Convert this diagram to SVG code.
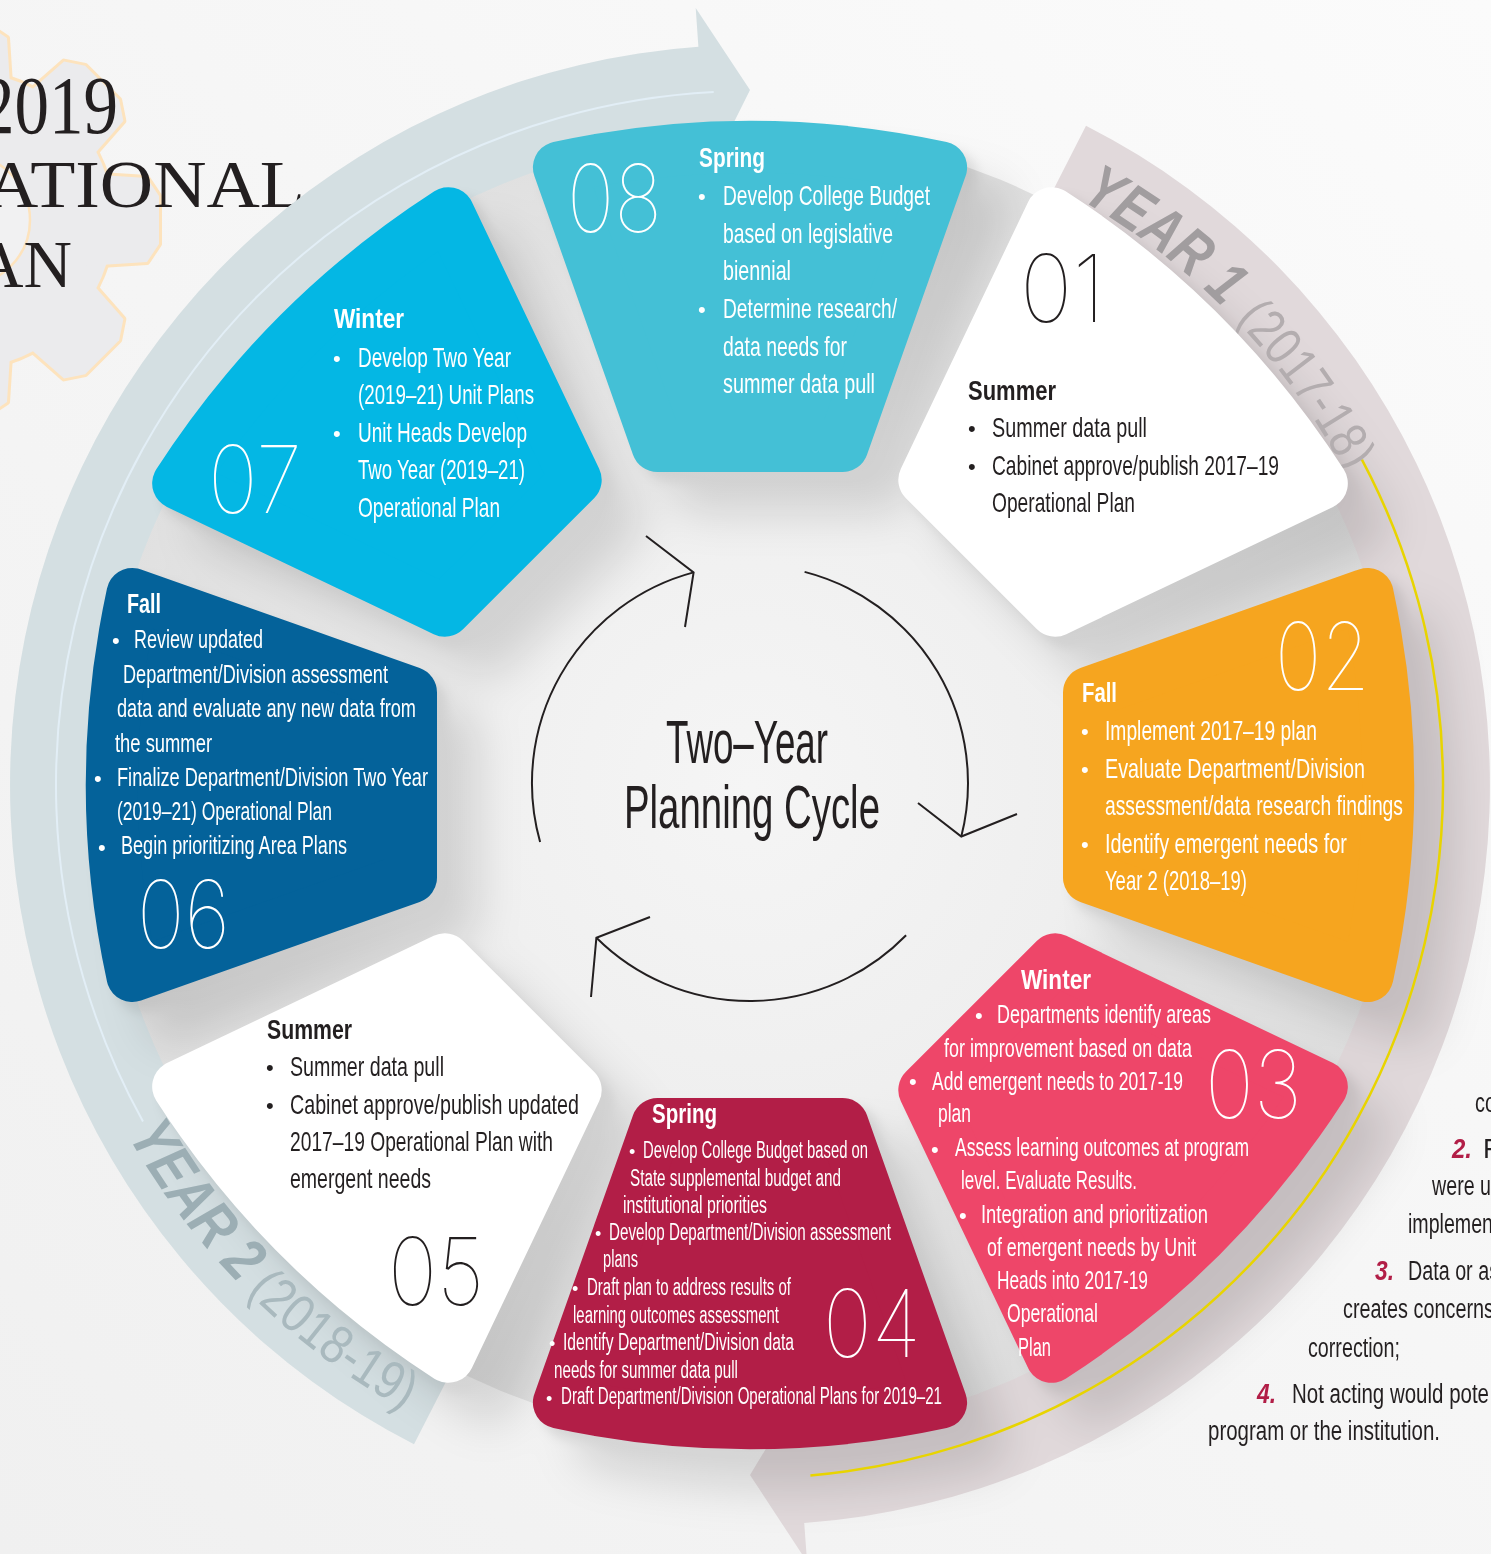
<svg xmlns="http://www.w3.org/2000/svg" width="1491" height="1554" viewBox="0 0 1491 1554">
<style>
.t{font-family:"Liberation Sans Narrow","Liberation Sans",Arial,sans-serif}
.h{font-weight:bold;font-size:28px}
.b{font-size:28px}
.m{font-size:26px}
.s{font-size:23px}
.bu{font-size:22px}
.bs{font-size:18px}
.w{fill:#fff}
.k{fill:#231f20}
.n{font-family:Inter,Roboto,Lato,sans-serif;font-weight:100;font-size:94px}
.ser{font-family:"Liberation Serif","Times New Roman",serif;fill:#231f20}
.cn{fill:#b21e47;font-weight:bold;font-style:italic;font-size:27px}
.cyc{fill:none;stroke:#231f20;stroke-width:2}
</style>
<defs>
<linearGradient id="bg" x1="1" y1="0" x2="0" y2="1">
<stop offset="0" stop-color="#fbfbfb"/><stop offset="1" stop-color="#f0f0f0"/>
</linearGradient>
<radialGradient id="disc" cx="750" cy="785" r="660" gradientUnits="userSpaceOnUse">
<stop offset="0" stop-color="#f5f5f5"/><stop offset="0.5" stop-color="#efefef"/><stop offset="1" stop-color="#e0e0e0"/>
</radialGradient>
<filter id="sh" x="-30%" y="-30%" width="170%" height="170%">
<feGaussianBlur in="SourceAlpha" stdDeviation="22" result="b1"/>
<feOffset in="b1" dx="42" dy="42" result="o1"/>
<feGaussianBlur in="SourceAlpha" stdDeviation="6" result="b2"/>
<feOffset in="b2" dx="10" dy="10" result="o2"/>
<feMerge result="m"><feMergeNode in="o1"/><feMergeNode in="o2"/></feMerge>
<feFlood flood-color="#000" flood-opacity="0.12"/>
<feComposite in2="m" operator="in"/>
</filter>
<path id="w" d="M339,-92.5 L617.6,-191.1 A904,904 0 0 1 617.6,191.1 L339,92.5 Z" stroke-width="52" stroke-linejoin="round"/>
<polygon id="tooth" points="120,-46 182,-42 194,-24 194,24 182,42 120,46"/>
<path id="y1p" d="M1065.5,191.7 A672,672 0 0 1 1373.1,533.3" fill="none"/>
<path id="y2p" d="M119.6,1120.2 A714,714 0 0 0 448.3,1432.1" fill="none"/>
</defs>

<rect width="1491" height="1554" fill="url(#bg)"/>

<g id="gear" transform="translate(-35 220)">
<g fill="#fde3bd" stroke="#fde3bd" stroke-width="6" stroke-linejoin="round">
<circle r="148"/>
<use href="#tooth"/><use href="#tooth" transform="rotate(45)"/><use href="#tooth" transform="rotate(90)"/><use href="#tooth" transform="rotate(135)"/><use href="#tooth" transform="rotate(180)"/><use href="#tooth" transform="rotate(225)"/><use href="#tooth" transform="rotate(270)"/><use href="#tooth" transform="rotate(315)"/>
</g>
<g fill="#ebebed">
<circle r="148"/>
<use href="#tooth"/><use href="#tooth" transform="rotate(45)"/><use href="#tooth" transform="rotate(90)"/><use href="#tooth" transform="rotate(135)"/><use href="#tooth" transform="rotate(180)"/><use href="#tooth" transform="rotate(225)"/><use href="#tooth" transform="rotate(270)"/><use href="#tooth" transform="rotate(315)"/>
</g>
<circle r="65" fill="#f1f1f2" stroke="#fde3bd" stroke-width="2.5"/>
</g>

<g id="title" class="ser">
<text x="-20" y="133" font-size="82" textLength="138" lengthAdjust="spacingAndGlyphs">2019</text>
<text x="-15" y="207" font-size="68" textLength="320" lengthAdjust="spacingAndGlyphs">ATIONAL</text>
<text x="-25" y="287" font-size="68" textLength="97" lengthAdjust="spacingAndGlyphs">AN</text>
</g>

<circle id="disc" cx="750" cy="785" r="655" fill="url(#disc)"/>

<g id="rings">
<path id="year2-band" fill="#d4dfe2" d="M454.9,1364.2 L414,1444.3 A740,740 0 0 1 698.4,46.8 L695.7,7.9 L750,90 L707.4,175.5 L704.7,136.6 A650,650 0 0 0 454.9,1364.2 Z"/>
<path id="year1-band" fill="#e1d9db" d="M1045.1,205.9 L1086,125.7 A740,740 0 0 1 804.2,1523 L807.1,1561.9 L750,1475 L795.2,1400.3 L797.6,1433.3 A650,650 0 0 0 1045.1,205.9 Z"/>
<path d="M143,1121.5 A694,694 0 0 1 713.7,92" fill="none" stroke="#e2eef6" stroke-width="2"/>
</g>

<g id="shadows" filter="url(#sh)" fill="#000" stroke="#000">
<use href="#w" transform="translate(750 785) rotate(-45)"/>
<use href="#w" transform="translate(750 785) rotate(0)"/>
<use href="#w" transform="translate(750 785) rotate(45)"/>
<use href="#w" transform="translate(750 785) rotate(90)"/>
<use href="#w" transform="translate(750 785) rotate(135)"/>
<use href="#w" transform="translate(750 785) rotate(180)"/>
<use href="#w" transform="translate(750 785) rotate(225)"/>
<use href="#w" transform="translate(750 785) rotate(270)"/>
</g>

<path id="yellow-line" d="M1361.9,459.7 A693,693 0 0 1 810.4,1475.4" fill="none" stroke="#e8d400" stroke-width="2.5"/>

<g id="year-labels" class="t">
<text font-size="62" font-weight="bold" font-style="italic" fill="#a19d9f"><textPath href="#y1p" startOffset="16" textLength="180" lengthAdjust="spacingAndGlyphs">YEAR 1</textPath></text>
<text font-size="54" font-weight="300" fill="#b3adaf"><textPath href="#y1p" startOffset="214" textLength="188" lengthAdjust="spacingAndGlyphs">(2017-18)</textPath></text>
<text font-size="62" font-weight="bold" font-style="italic" fill="#9caeb4"><textPath href="#y2p" startOffset="17" textLength="186" lengthAdjust="spacingAndGlyphs">YEAR 2</textPath></text>
<text font-size="54" font-weight="300" fill="#a9b9be"><textPath href="#y2p" startOffset="214" textLength="198" lengthAdjust="spacingAndGlyphs">(2018-19)</textPath></text>
</g>

<g id="node-08" class="t">
<use href="#w" transform="translate(750 785) rotate(270)" fill="#44c0d6" stroke="#44c0d6"/>
<text class="n w" x="567" y="232" textLength="95" lengthAdjust="spacingAndGlyphs">08</text>
<text class="h w" x="699" y="167" textLength="66" lengthAdjust="spacingAndGlyphs">Spring</text>
<text class="bu w" x="698" y="204">•</text>
<text class="bu w" x="698" y="317">•</text>
<text class="b w" x="723" y="205" textLength="207" lengthAdjust="spacingAndGlyphs">Develop College Budget</text>
<text class="b w" x="723" y="243" textLength="170" lengthAdjust="spacingAndGlyphs">based on legislative</text>
<text class="b w" x="723" y="280" textLength="68" lengthAdjust="spacingAndGlyphs">biennial</text>
<text class="b w" x="723" y="318" textLength="174" lengthAdjust="spacingAndGlyphs">Determine research/</text>
<text class="b w" x="723" y="356" textLength="124" lengthAdjust="spacingAndGlyphs">data needs for</text>
<text class="b w" x="723" y="393" textLength="152" lengthAdjust="spacingAndGlyphs">summer data pull</text>
</g>

<g id="node-01" class="t">
<use href="#w" transform="translate(750 785) rotate(-45)" fill="#fff" stroke="#fff"/>
<text class="n k" x="1020" y="322" textLength="85" lengthAdjust="spacingAndGlyphs">01</text>
<text class="h k" x="968" y="400" textLength="88" lengthAdjust="spacingAndGlyphs">Summer</text>
<text class="bu k" x="968" y="436">•</text>
<text class="bu k" x="968" y="474">•</text>
<text class="b k" x="992" y="437" textLength="155" lengthAdjust="spacingAndGlyphs">Summer data pull</text>
<text class="b k" x="992" y="475" textLength="287" lengthAdjust="spacingAndGlyphs">Cabinet approve/publish 2017–19</text>
<text class="b k" x="992" y="512" textLength="143" lengthAdjust="spacingAndGlyphs">Operational Plan</text>
</g>

<g id="node-02" class="t">
<use href="#w" transform="translate(750 785) rotate(0)" fill="#f6a51f" stroke="#f6a51f"/>
<text class="n w" x="1275" y="690" textLength="95" lengthAdjust="spacingAndGlyphs">02</text>
<text class="h w" x="1082" y="702" textLength="35" lengthAdjust="spacingAndGlyphs">Fall</text>
<text class="bu w" x="1081" y="739">•</text>
<text class="bu w" x="1081" y="777">•</text>
<text class="bu w" x="1081" y="852">•</text>
<text class="b w" x="1105" y="740" textLength="212" lengthAdjust="spacingAndGlyphs">Implement 2017–19 plan</text>
<text class="b w" x="1105" y="778" textLength="260" lengthAdjust="spacingAndGlyphs">Evaluate Department/Division</text>
<text class="b w" x="1105" y="815" textLength="298" lengthAdjust="spacingAndGlyphs">assessment/data research findings</text>
<text class="b w" x="1105" y="853" textLength="242" lengthAdjust="spacingAndGlyphs">Identify emergent needs for</text>
<text class="b w" x="1105" y="890" textLength="142" lengthAdjust="spacingAndGlyphs">Year 2 (2018–19)</text>
</g>

<g id="node-03" class="t">
<use href="#w" transform="translate(750 785) rotate(45)" fill="#ee4669" stroke="#ee4669"/>
<text class="n w" x="1205" y="1118" textLength="97" lengthAdjust="spacingAndGlyphs">03</text>
<text class="h w" x="1021" y="989" textLength="70" lengthAdjust="spacingAndGlyphs">Winter</text>
<text class="bu w" x="975" y="1023">•</text>
<text class="bu w" x="909" y="1089">•</text>
<text class="bu w" x="931" y="1157">•</text>
<text class="bu w" x="959" y="1223">•</text>
<text class="m w" x="997" y="1023" textLength="214" lengthAdjust="spacingAndGlyphs">Departments identify areas</text>
<text class="m w" x="944" y="1057" textLength="248" lengthAdjust="spacingAndGlyphs">for improvement based on data</text>
<text class="m w" x="932" y="1090" textLength="251" lengthAdjust="spacingAndGlyphs">Add emergent needs to 2017-19</text>
<text class="m w" x="938" y="1122" textLength="33" lengthAdjust="spacingAndGlyphs">plan</text>
<text class="m w" x="955" y="1156" textLength="294" lengthAdjust="spacingAndGlyphs">Assess learning outcomes at program</text>
<text class="m w" x="961" y="1189" textLength="176" lengthAdjust="spacingAndGlyphs">level. Evaluate Results.</text>
<text class="m w" x="981" y="1223" textLength="227" lengthAdjust="spacingAndGlyphs">Integration and prioritization</text>
<text class="m w" x="987" y="1256" textLength="209" lengthAdjust="spacingAndGlyphs">of emergent needs by Unit</text>
<text class="m w" x="997" y="1289" textLength="151" lengthAdjust="spacingAndGlyphs">Heads into 2017-19</text>
<text class="m w" x="1007" y="1322" textLength="91" lengthAdjust="spacingAndGlyphs">Operational</text>
<text class="m w" x="1018" y="1356" textLength="33" lengthAdjust="spacingAndGlyphs">Plan</text>
</g>

<g id="node-04" class="t">
<use href="#w" transform="translate(750 785) rotate(90)" fill="#b21e47" stroke="#b21e47"/>
<text class="n w" x="823" y="1357" textLength="98" lengthAdjust="spacingAndGlyphs">04</text>
<text class="h w" x="652" y="1123" textLength="65" lengthAdjust="spacingAndGlyphs">Spring</text>
<text class="bs w" x="629" y="1158">•</text>
<text class="bs w" x="595" y="1240">•</text>
<text class="bs w" x="572" y="1295">•</text>
<text class="bs w" x="549" y="1350">•</text>
<text class="bs w" x="546" y="1405">•</text>
<text class="s w" x="643" y="1158" textLength="225" lengthAdjust="spacingAndGlyphs">Develop College Budget based on</text>
<text class="s w" x="630" y="1186" textLength="211" lengthAdjust="spacingAndGlyphs">State supplemental budget and</text>
<text class="s w" x="623" y="1213" textLength="144" lengthAdjust="spacingAndGlyphs">institutional priorities</text>
<text class="s w" x="609" y="1240" textLength="282" lengthAdjust="spacingAndGlyphs">Develop Department/Division assessment</text>
<text class="s w" x="603" y="1267" textLength="35" lengthAdjust="spacingAndGlyphs">plans</text>
<text class="s w" x="587" y="1295" textLength="204" lengthAdjust="spacingAndGlyphs">Draft plan to address results of</text>
<text class="s w" x="573" y="1323" textLength="206" lengthAdjust="spacingAndGlyphs">learning outcomes assessment</text>
<text class="s w" x="563" y="1350" textLength="231" lengthAdjust="spacingAndGlyphs">Identify Department/Division data</text>
<text class="s w" x="554" y="1378" textLength="184" lengthAdjust="spacingAndGlyphs">needs for summer data pull</text>
<text class="s w" x="561" y="1404" textLength="381" lengthAdjust="spacingAndGlyphs">Draft Department/Division Operational Plans for 2019–21</text>
</g>

<g id="node-05" class="t">
<use href="#w" transform="translate(750 785) rotate(135)" fill="#fff" stroke="#fff"/>
<text class="n k" x="388" y="1305" textLength="96" lengthAdjust="spacingAndGlyphs">05</text>
<text class="h k" x="267" y="1039" textLength="85" lengthAdjust="spacingAndGlyphs">Summer</text>
<text class="bu k" x="266" y="1075">•</text>
<text class="bu k" x="266" y="1113">•</text>
<text class="b k" x="290" y="1076" textLength="154" lengthAdjust="spacingAndGlyphs">Summer data pull</text>
<text class="b k" x="290" y="1114" textLength="289" lengthAdjust="spacingAndGlyphs">Cabinet approve/publish updated</text>
<text class="b k" x="290" y="1151" textLength="263" lengthAdjust="spacingAndGlyphs">2017–19 Operational Plan with</text>
<text class="b k" x="290" y="1188" textLength="141" lengthAdjust="spacingAndGlyphs">emergent needs</text>
</g>

<g id="node-06" class="t">
<use href="#w" transform="translate(750 785) rotate(180)" fill="#04629a" stroke="#04629a"/>
<text class="n w" x="137" y="948" textLength="93" lengthAdjust="spacingAndGlyphs">06</text>
<text class="h w" x="127" y="613" textLength="34" lengthAdjust="spacingAndGlyphs">Fall</text>
<text class="bu w" x="112" y="648">•</text>
<text class="bu w" x="94" y="786">•</text>
<text class="bu w" x="98" y="855">•</text>
<text class="m w" x="134" y="648" textLength="129" lengthAdjust="spacingAndGlyphs">Review updated</text>
<text class="m w" x="123" y="683" textLength="265" lengthAdjust="spacingAndGlyphs">Department/Division assessment</text>
<text class="m w" x="117" y="717" textLength="299" lengthAdjust="spacingAndGlyphs">data and evaluate any new data from</text>
<text class="m w" x="115" y="752" textLength="97" lengthAdjust="spacingAndGlyphs">the summer</text>
<text class="m w" x="117" y="786" textLength="311" lengthAdjust="spacingAndGlyphs">Finalize Department/Division Two Year</text>
<text class="m w" x="117" y="820" textLength="215" lengthAdjust="spacingAndGlyphs">(2019–21) Operational Plan</text>
<text class="m w" x="121" y="854" textLength="226" lengthAdjust="spacingAndGlyphs">Begin prioritizing Area Plans</text>
</g>

<g id="node-07" class="t">
<use href="#w" transform="translate(750 785) rotate(225)" fill="#04b7e4" stroke="#04b7e4"/>
<text class="n w" x="208" y="513" textLength="94" lengthAdjust="spacingAndGlyphs">07</text>
<text class="h w" x="334" y="328" textLength="70" lengthAdjust="spacingAndGlyphs">Winter</text>
<text class="bu w" x="333" y="366">•</text>
<text class="bu w" x="333" y="441">•</text>
<text class="b w" x="358" y="367" textLength="153" lengthAdjust="spacingAndGlyphs">Develop Two Year</text>
<text class="b w" x="358" y="404" textLength="176" lengthAdjust="spacingAndGlyphs">(2019–21) Unit Plans</text>
<text class="b w" x="358" y="442" textLength="169" lengthAdjust="spacingAndGlyphs">Unit Heads Develop</text>
<text class="b w" x="358" y="479" textLength="167" lengthAdjust="spacingAndGlyphs">Two Year (2019–21)</text>
<text class="b w" x="358" y="517" textLength="142" lengthAdjust="spacingAndGlyphs">Operational Plan</text>
</g>

<g id="center-title" class="t k">
<text x="666" y="763" font-size="62" textLength="162" lengthAdjust="spacingAndGlyphs">Two–Year</text>
<text x="624" y="828" font-size="62" textLength="256" lengthAdjust="spacingAndGlyphs">Planning Cycle</text>
</g>

<g id="connectors" class="cyc">
<path d="M540.1,842 A218,218 0 0 1 693.6,572.4"/>
<polyline points="646,536 693.6,572.4 685,627"/>
<path d="M804.6,571.9 A218,218 0 0 1 961.3,836.5"/>
<polyline points="918,803 961.3,836.5 1017,814"/>
<path d="M906.1,935.2 A218,218 0 0 1 596.4,937.7"/>
<polyline points="650,917 596.4,937.7 591,997"/>
</g>

<g id="side-notes" class="t k" font-size="27">
<text x="1475" y="1112" textLength="21" lengthAdjust="spacingAndGlyphs">co</text>
<text class="cn" x="1452" y="1158" textLength="20" lengthAdjust="spacingAndGlyphs">2.</text>
<text x="1483" y="1158">F</text>
<text x="1432" y="1195" textLength="59" lengthAdjust="spacingAndGlyphs">were u</text>
<text x="1408" y="1233" textLength="85" lengthAdjust="spacingAndGlyphs">implemen</text>
<text class="cn" x="1375" y="1280" textLength="19" lengthAdjust="spacingAndGlyphs">3.</text>
<text x="1408" y="1280" textLength="91" lengthAdjust="spacingAndGlyphs">Data or as</text>
<text x="1343" y="1318" textLength="151" lengthAdjust="spacingAndGlyphs">creates concerns</text>
<text x="1308" y="1357" textLength="92" lengthAdjust="spacingAndGlyphs">correction;</text>
<text class="cn" x="1257" y="1403" textLength="19" lengthAdjust="spacingAndGlyphs">4.</text>
<text x="1292" y="1403" textLength="197" lengthAdjust="spacingAndGlyphs">Not acting would pote</text>
<text x="1208" y="1440" textLength="232" lengthAdjust="spacingAndGlyphs">program or the institution.</text>
</g>
</svg>
